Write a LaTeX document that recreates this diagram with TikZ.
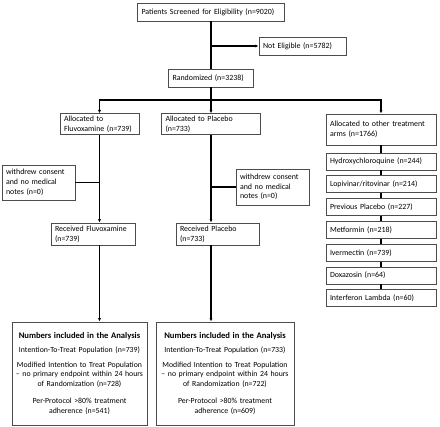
\documentclass[tikz,border=0pt]{standalone}
\usepackage{fontspec}
\setmainfont{Carlito}
\usetikzlibrary{positioning,arrows.meta}

\tikzstyle{block} = [draw=black!70, line width=0.7pt, rectangle, inner xsep=4pt,
    inner ysep=2pt, align=left, font=\fontsize{7.9}{9.8}\selectfont]
\tikzstyle{arm} = [block, text width=102pt, minimum height=17pt]
\tikzstyle{result} = [block, align=center, inner xsep=2.5pt, text width=130pt,
    minimum height=103pt, font=\fontsize{7.8}{9.5}\selectfont]
\tikzstyle{line} = [draw, line width=1.2pt]
\tikzstyle{arrow} = [line, -{Latex[length=3.5pt,width=3pt]}]

\begin{document}
\begin{tikzpicture}[x=1pt, y=-1pt, node distance=22.8pt]
    \useasboundingbox (0,0) rectangle (440,427);

    \node [block, text width=139pt, minimum height=18pt] (screen) at (211,12)
        {Patients Screened for Eligibility (n=9020)};
    \node [block, text width=79pt, minimum height=18pt] (noelig) at (302.5,46)
        {Not Eligible (n=5782)};
    \node [block, text width=77pt, minimum height=18pt] (rand) at (211,78)
        {Randomized (n=3238)};
    \coordinate (split) at (211,100);

    \node [block, text width=71pt, minimum height=20pt] (fluv) at (99.5,124)
        {Allocated to\\Fluvoxamine (n=739)};
    \node [block, text width=91pt, minimum height=20pt] (plac) at (211,124)
        {Allocated to Placebo\\(n=733)};
    \node [block, text width=102pt, minimum height=31pt] (other) at (381,129.5)
        {Allocated to other treatment\\arms (n=1766)};

    \node [arm] (hcq) at (381,161.5) {Hydroxychloroquine (n=244)};
    \node [arm, below of=hcq] (lpv) {Lopivinar/ritovinar (n=214)};
    \node [arm, below of=lpv] (prev) {Previous Placebo (n=227)};
    \node [arm, below of=prev] (metf) {Metformin (n=218)};
    \node [arm, below of=metf] (iver) {Ivermectin (n=739)};
    \node [arm, below of=iver] (doxa) {Doxazosin (n=64)};
    \node [arm, below of=doxa] (ifn) {Interferon Lambda (n=60)};

    \node [block, text width=65pt, minimum height=35pt] (wdl) at (38.5,182.5)
        {withdrew consent\\and no medical\\notes (n=0)};
    \node [block, text width=65pt, minimum height=36pt] (wdr) at (272.5,187)
        {withdrew consent\\and no medical\\notes (n=0)};

    \node [block, text width=76pt, minimum height=22pt] (recf) at (93,234)
        {Received Fluvoxamine\\(n=739)};
    \node [block, text width=75pt, minimum height=22pt] (recp) at (217.5,234)
        {Received Placebo\\(n=733)};

    \node [result] (anf) at (79.5,373.5)
        {{\fontsize{8.6}{9.5}\selectfont\bfseries Numbers included in the Analysis}\\[5pt]
        Intention-To-Treat Population (n=739)\\[5pt]
        Modified Intention to Treat Population\\-- no primary endpoint within 24 hours\\of Randomization (n=728)\\[8pt]
        Per-Protocol >80\% treatment\\adherence (n=541)};
    \node [result, text width=133pt] (anp) at (225,373.5)
        {{\fontsize{8.6}{9.5}\selectfont\bfseries Numbers included in the Analysis}\\[5pt]
        Intention-To-Treat Population (n=733)\\[5pt]
        Modified Intention to Treat Population\\-- no primary endpoint within 24 hours\\of Randomization (n=722)\\[8pt]
        Per-Protocol >80\% treatment\\adherence (n=609)};

    \draw [line] (screen) -- (rand);
    \draw [arrow] (screen.south |- noelig) -- (noelig);
    \draw [line] (rand) -- (split);
    \draw [arrow] (split) -| (fluv);
    \draw [arrow] (split) -- (plac);
    \draw [arrow] (split) -| (other);

    \foreach \a/\b in {other/hcq, hcq/lpv, lpv/prev, prev/metf, metf/iver, iver/doxa, doxa/ifn}
        \draw [line] (\a) -- (\b);

    \draw [arrow] (fluv) -- (fluv |- recf.north);
    \draw [line] (wdl) -- (wdl -| fluv);
    \draw [arrow] (plac) -- (plac |- recp.north);
    \draw [line] (wdr) -- (wdr -| plac);
    \draw [arrow] (recf.south -| fluv) -- (fluv |- anf.north);
    \draw [arrow] (recp.south -| plac) -- (plac |- anp.north);
\end{tikzpicture}
\end{document}
